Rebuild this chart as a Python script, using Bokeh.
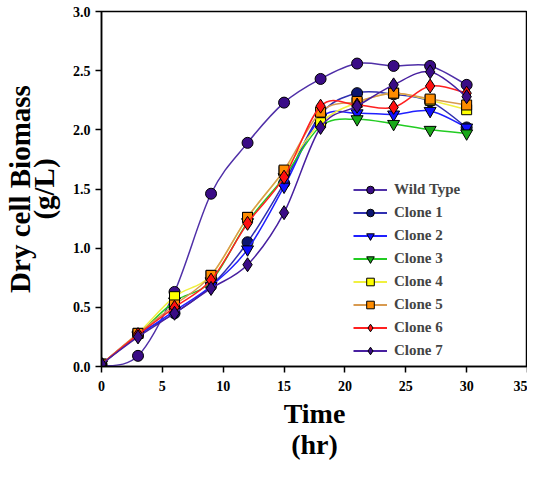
from bokeh.plotting import figure
from bokeh.models import Range1d, Legend, LegendItem, ColumnDataSource, FixedTicker, CustomJSTickFormatter
from bokeh.embed import file_html
from bokeh.resources import INLINE

time_hr = [0, 3, 6, 9, 12, 15, 18, 21, 24, 27, 30]
wild_type = [0.0, 0.09, 0.63, 1.46, 1.89, 2.23, 2.43, 2.56, 2.54, 2.54, 2.38]
clone_1 = [0.02, 0.27, 0.45, 0.68, 1.05, 1.55, 2.13, 2.31, 2.30, 2.24, 2.02]
clone_2 = [0.02, 0.26, 0.47, 0.68, 0.99, 1.52, 2.10, 2.14, 2.13, 2.16, 2.02]
clone_3 = [0.02, 0.27, 0.55, 0.72, 1.22, 1.60, 2.03, 2.09, 2.05, 2.00, 1.97]
clone_4 = [0.02, 0.28, 0.59, 0.77, 1.26, 1.65, 2.06, 2.23, 2.31, 2.25, 2.17]
clone_5 = [0.02, 0.28, 0.52, 0.77, 1.26, 1.66, 2.15, 2.24, 2.31, 2.26, 2.21]
clone_6 = [0.02, 0.27, 0.50, 0.73, 1.21, 1.60, 2.20, 2.21, 2.19, 2.37, 2.31]
clone_7 = [0.02, 0.25, 0.45, 0.66, 0.86, 1.30, 2.02, 2.20, 2.38, 2.49, 2.28]

names = ["Wild Type", "Clone 1", "Clone 2", "Clone 3", "Clone 4", "Clone 5", "Clone 6", "Clone 7"]
series = [wild_type, clone_1, clone_2, clone_3, clone_4, clone_5, clone_6, clone_7]
markers = ["circle", "circle", "inverted_triangle", "inverted_triangle", "square", "square", "diamond", "diamond"]
fills = ["#3a0c86", "#0c1670", "#1010ff", "#18a818", "#ffff00", "#ff8c00", "#ff1010", "#3a0c86"]
lines = ["#5030a8", "#3030b0", "#2020ff", "#22cc22", "#f0f040", "#d89a50", "#ff2020", "#4820a0"]
sizes = [11, 11, 12, 12, 10, 10, 14, 14]

p = figure(width=527, height=462, output_backend="svg", toolbar_location=None,
           x_range=Range1d(0, 35), y_range=Range1d(0, 3),
           min_border_left=97, min_border_right=0, min_border_top=11, min_border_bottom=96)
p.xgrid.visible = False
p.ygrid.visible = False
p.outline_line_color = "black"
p.outline_line_width = 1.5
p.background_fill_color = "white"

def bezier_parts(xs, ys):
    n = len(xs)
    x0, y0, x1, y1, cx0, cy0, cx1, cy1 = [], [], [], [], [], [], [], []
    for i in range(n - 1):
        im = max(i - 1, 0)
        ip2 = min(i + 2, n - 1)
        x0.append(xs[i]); y0.append(ys[i])
        x1.append(xs[i + 1]); y1.append(ys[i + 1])
        cx0.append(xs[i] + (xs[i + 1] - xs[im]) / 6.0)
        cy0.append(ys[i] + (ys[i + 1] - ys[im]) / 6.0)
        cx1.append(xs[i + 1] - (xs[ip2] - xs[i]) / 6.0)
        cy1.append(ys[i + 1] - (ys[ip2] - ys[i]) / 6.0)
    return dict(x0=x0, y0=y0, x1=x1, y1=y1, cx0=cx0, cy0=cy0, cx1=cx1, cy1=cy1)

items = []
for name, ys, mk, fc, lc, sz in zip(names, series, markers, fills, lines, sizes):
    src = ColumnDataSource(bezier_parts(time_hr, ys))
    p.bezier(x0="x0", y0="y0", x1="x1", y1="y1", cx0="cx0", cy0="cy0", cx1="cx1", cy1="cy1",
             source=src, line_color=lc, line_width=1.5)
    proxy = p.line(time_hr, ys, line_color=lc, line_width=1.8, visible=False)
    sc = p.scatter(time_hr, ys, marker=mk, size=sz, fill_color=fc, line_color="black", line_width=1)
    items.append(LegendItem(label=name, renderers=[proxy, sc]))

legend = Legend(items=items, location=(252, 6), border_line_color=None, background_fill_alpha=0,
                label_text_font="Liberation Serif", label_text_font_style="bold",
                label_text_font_size="15px", glyph_width=34, glyph_height=19,
                spacing=4, label_standoff=7, padding=4)
p.add_layout(legend, "center")

p.xaxis.ticker = FixedTicker(ticks=[0, 5, 10, 15, 20, 25, 30, 35])
p.yaxis.ticker = FixedTicker(ticks=[0, 0.5, 1.0, 1.5, 2.0, 2.5, 3.0])
p.yaxis.formatter = CustomJSTickFormatter(code="return tick.toFixed(1);")

for ax in (p.xaxis[0], p.yaxis[0]):
    ax.axis_line_width = 1.5
    ax.major_tick_line_width = 1.5
    ax.major_tick_out = 6
    ax.major_tick_in = 0
    ax.minor_tick_out = 0
    ax.minor_tick_in = 0
    ax.major_label_text_font = "Liberation Serif"
    ax.major_label_text_font_style = "bold"
    ax.major_label_text_color = "black"
    ax.axis_label_text_font = "Liberation Serif"
    ax.axis_label_text_font_style = "bold"
    ax.axis_label_text_color = "black"

p.xaxis.major_label_text_font_size = "14px"
p.yaxis.major_label_text_font_size = "14px"
p.xaxis.major_label_standoff = 8
p.yaxis.major_label_standoff = 5
p.xaxis.axis_label = "Time\n(hr)"
p.xaxis.axis_label_text_font_size = "28px"
p.xaxis.axis_label_text_line_height = 1.0
p.xaxis.axis_label_standoff = 4
p.yaxis.axis_label = "Dry cell Biomass\n(g/L)"
p.yaxis.axis_label_text_font_size = "29px"
p.yaxis.axis_label_text_line_height = 0.75
p.yaxis.axis_label_standoff = 10

open("out.html", "w").write(file_html(p, INLINE))
